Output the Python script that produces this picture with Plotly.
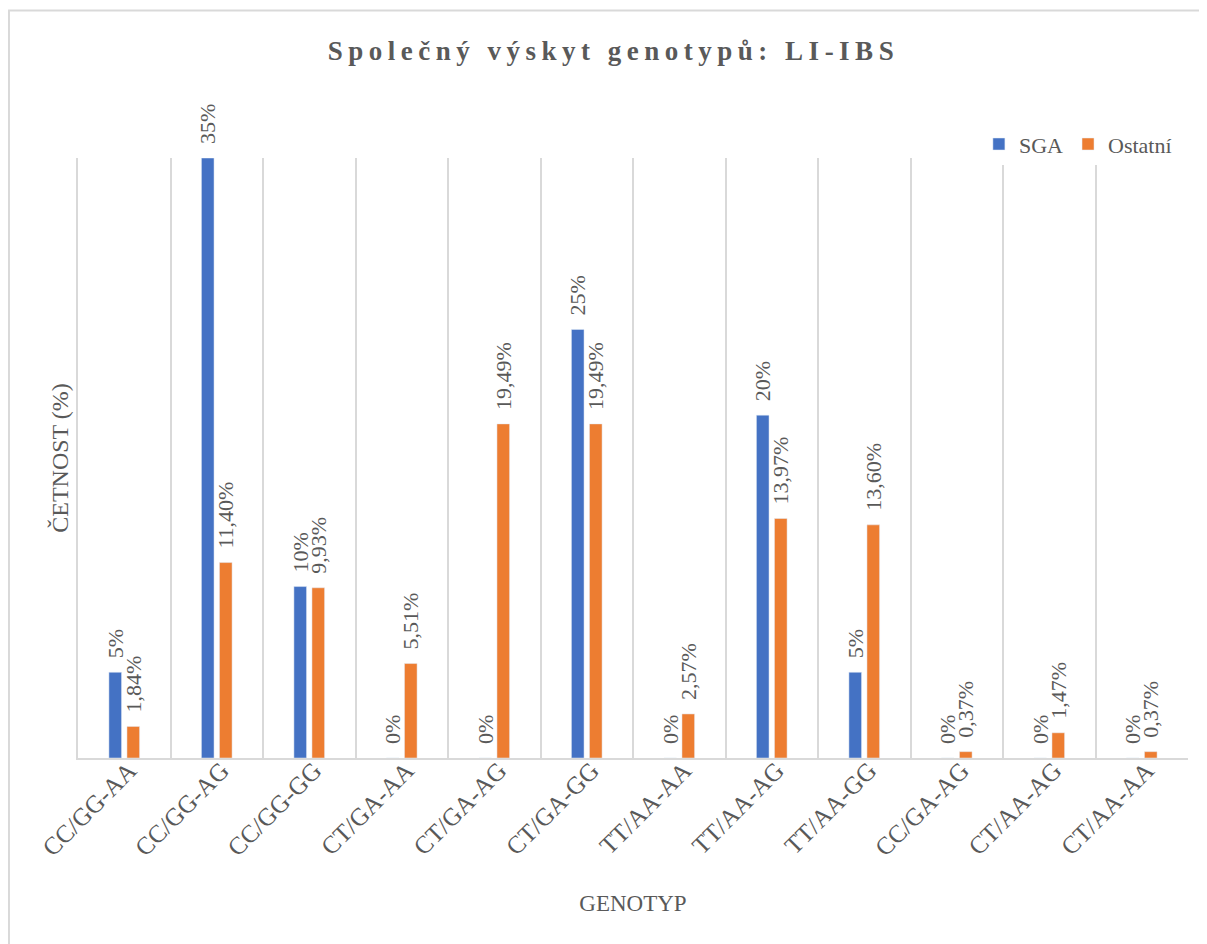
import plotly.graph_objects as go

genotypes = [
    "CC/GG-AA", "CC/GG-AG", "CC/GG-GG", "CT/GA-AA", "CT/GA-AG", "CT/GA-GG",
    "TT/AA-AA", "TT/AA-AG", "TT/AA-GG", "CC/GA-AG", "CT/AA-AG", "CT/AA-AA",
]
sga = [5, 35, 10, 0, 0, 25, 0, 20, 5, 0, 0, 0]
ostatni = [1.84, 11.40, 9.93, 5.51, 19.49, 19.49, 2.57, 13.97, 13.60, 0.37, 1.47, 0.37]

SERIF = "Liberation Serif"
GREY = "#595959"
LINE = "#d9d9d9"
PAD = "\u00a0\u00a0"  # mezera mezi sloupcem a popiskem
SPAN = '<span style="font-family:Liberation Serif">'

fig = go.Figure()

fig.add_trace(go.Bar(
    x=genotypes, y=sga, name="SGA",
    marker_color="#4472C4",
    texttemplate=SPAN + PAD + "%{y:.0f}%</span>",
))
fig.add_trace(go.Bar(
    x=genotypes, y=ostatni, name="Ostatní",
    marker_color="#ED7D31",
    texttemplate=SPAN + PAD + "%{y:.2f}%</span>",
))

label_font = dict(family=SERIF, size=22, color=GREY)
fig.update_traces(
    textposition="outside",
    textangle=-90,
    constraintext="none",
    cliponaxis=False,
    textfont=label_font,
    outsidetextfont=label_font,
)

# orámování grafu (jen horní a levá hrana jsou vidět)
shapes = [
    dict(type="line", xref="paper", yref="paper", x0=-0.063, x1=1.1, y0=1.246, y1=1.246,
         line=dict(color=LINE, width=2)),
    dict(type="line", xref="paper", yref="paper", x0=-0.0622, x1=-0.0622, y0=1.246, y1=-0.4,
         line=dict(color=LINE, width=2)),
]

# stránka má okraj 8 px, proto je figura o 8 px menší
fig.update_layout(
    width=1199, height=936,
    font=dict(family=SERIF, color=GREY),
    paper_bgcolor="white", plot_bgcolor="white",
    separators=", ",
    barmode="group",
    bargap=0.61,
    bargroupgap=0.3,
    margin=dict(l=70, r=19, t=150, b=186),
    title=dict(
        text="<b>Společný výskyt genotypů: LI-IBS</b>",
        x=0.505, xanchor="center", y=1 - 43 / 936, yanchor="middle", yref="container",
        font=dict(family=SERIF, size=27, color=GREY),
    ),
    legend=dict(
        orientation="h", x=0.99, xanchor="right", y=1.023, yanchor="middle",
        font=dict(family=SERIF, size=22, color=GREY),
        itemwidth=30, traceorder="normal",
    ),
    xaxis=dict(
        tickson="boundaries", showgrid=True, gridcolor=LINE, gridwidth=2,
        showline=True, linecolor=LINE, linewidth=2,
        ticks="", tickangle=-45,
        ticklabelstandoff=-14, ticklabelshift=5,
        tickfont=dict(family=SERIF, size=25, color=GREY),
        title=dict(text="GENOTYP", standoff=35, font=dict(family=SERIF, size=23, color=GREY)),
        automargin=False,
    ),
    yaxis=dict(
        range=[0, 35], showgrid=False, zeroline=False,
        showline=True, linecolor=LINE, linewidth=2,
        showticklabels=False, ticks="",
        title=dict(text="ČETNOST (%)", standoff=1, font=dict(family=SERIF, size=24, color=GREY)),
        automargin=False,
    ),
    shapes=shapes,
)

fig.write_html(
    "out.html",
    post_script="document.querySelectorAll('.gtitle').forEach(function(e){e.style.letterSpacing='5.5px';});",
)
